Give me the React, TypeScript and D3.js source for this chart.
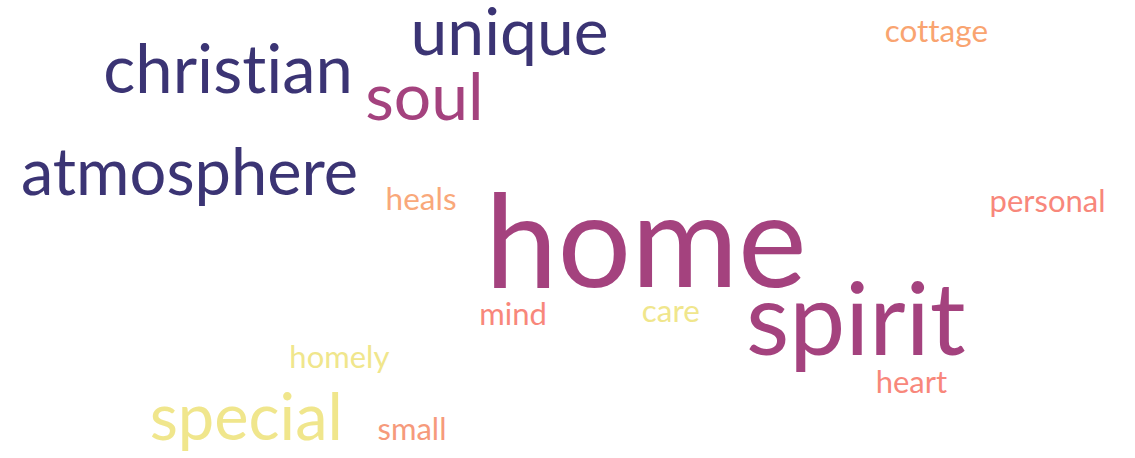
import React from "react";
import * as d3 from "d3";

const words = ["home", "spirit", "christian", "atmosphere", "unique", "soul", "special", "cottage", "personal", "heals", "heart", "mind", "care", "homely", "small"];
const counts = [52, 40, 26.8, 26, 26.4, 26.4, 26, 12.6, 12.4, 12.6, 12.4, 12.4, 12.6, 12.4, 12.4];
const colors = ["#a4427e", "#a4427e", "#3b3474", "#3b3474", "#3b3474", "#a4427e", "#f0e68c", "#f9a470", "#f8877b", "#f9a87a", "#f8877b", "#f8877b", "#f0e68c", "#f0e68c", "#f69a7b"];
// layout positions (centre x, baseline y) in layout units 0..1
const posX = [0.569, 0.754, 0.201, 0.167, 0.449, 0.374, 0.217, 0.825, 0.923, 0.371, 0.803, 0.452, 0.591, 0.299, 0.363];
const posY = [0.627, 0.775, 0.203, 0.426, 0.12, 0.262, 0.961, 0.092, 0.463, 0.459, 0.858, 0.71, 0.703, 0.803, 0.961];

export default function App() {
  const W = 1135, H = 458;
  const x = d3.scaleLinear().domain([0, 1]).range([0, W]);
  const y = d3.scaleLinear().domain([0, 1]).range([0, H]);
  const size = d3.scaleLinear().domain([0, d3.max(counts) as number]).range([0, 130]);
  return (
    <svg width={W} height={H} style={{ position: "absolute", left: 0, top: 0, background: "#fff" }}>
      {words.map((w, i) => (
        <text
          key={w}
          x={x(posX[i])}
          y={y(posY[i])}
          textAnchor="middle"
          fontFamily="Lato"
          fontSize={size(counts[i])}
          fill={colors[i]}
          style={{ fontVariantLigatures: "none", fontFeatureSettings: '"liga" 0, "clig" 0' }}
        >
          {w}
        </text>
      ))}
    </svg>
  );
}
